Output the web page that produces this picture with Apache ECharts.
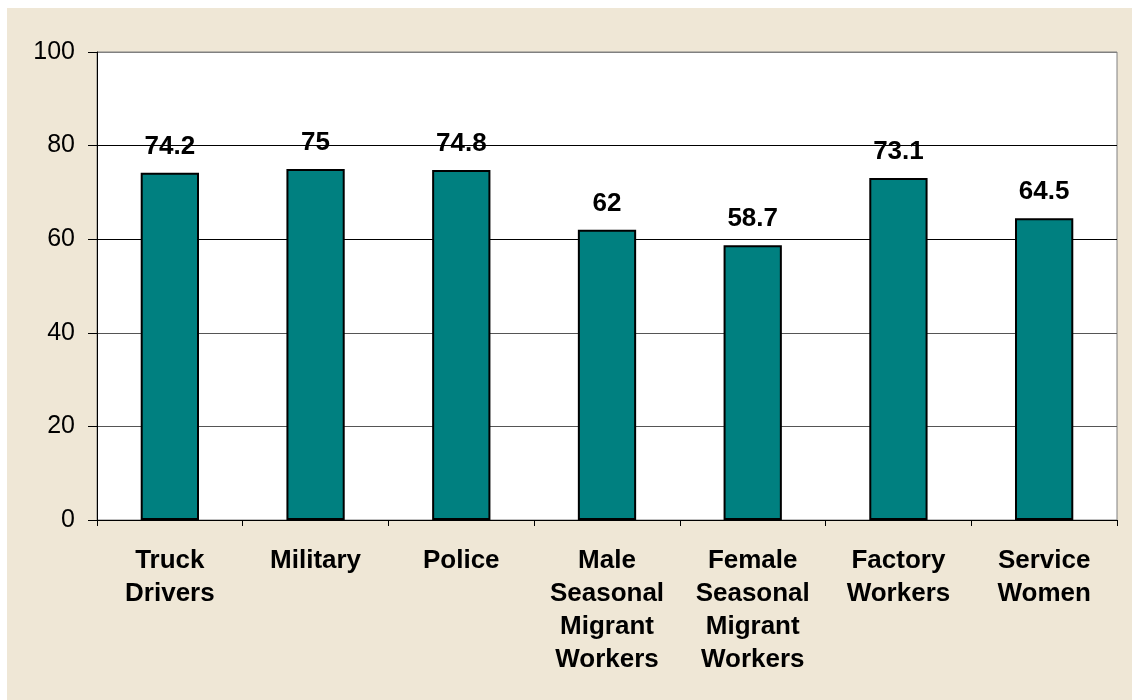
<!DOCTYPE html>
<html>
<head>
<meta charset="utf-8">
<script src="https://cdn.jsdelivr.net/npm/echarts@6/dist/echarts.min.js"></script>
<style>
  html, body { margin: 0; padding: 0; background: #fff; }
  #chart {
    position: absolute;
    left: 7px;
    top: 8px;
    width: 1125px;
    height: 692px;
    background: #efe7d6;
  }
</style>
</head>
<body>
<div id="chart"></div>
<script>
// 分类与数值
const categories = [
  'Truck\nDrivers',
  'Military',
  'Police',
  'Male\nSeasonal\nMigrant\nWorkers',
  'Female\nSeasonal\nMigrant\nWorkers',
  'Factory\nWorkers',
  'Service\nWomen'
]
const values = [74.2, 75, 74.8, 62, 58.7, 73.1, 64.5]
const yTicks = [0, 20, 40, 60, 80, 100]

const chart = echarts.init(document.getElementById('chart'))

const option = {
  animation: false,
  textStyle: { fontFamily: 'Liberation Sans, Arial, sans-serif' },
  grid: {
    left: 90,
    top: 44,
    right: 15,
    bottom: 180,
    show: true,
    backgroundColor: '#fff',
    borderColor: '#808080',
    borderWidth: 1
  },
  xAxis: {
    type: 'category',
    data: categories,
    axisLine: { lineStyle: { color: '#000', width: 1 } },
    axisTick: { show: true, length: 6, alignWithLabel: false, lineStyle: { color: '#000' } },
    axisLabel: {
      interval: 0,
      margin: 24,
      color: '#000',
      fontSize: 26,
      fontWeight: 'bold',
      lineHeight: 33,
      fontFamily: 'Liberation Sans, Arial, sans-serif'
    }
  },
  yAxis: {
    type: 'value',
    min: yTicks[0],
    max: yTicks[yTicks.length - 1],
    interval: 20,
    axisLine: { show: true, lineStyle: { color: '#000', width: 1 } },
    axisTick: { show: true, length: 9, lineStyle: { color: '#000' } },
    splitLine: {
      show: true,
      lineStyle: { color: ['#000', '#555', '#555', '#000', '#000', '#808080'], width: 1 }
    },
    axisLabel: {
      margin: 22,
      color: '#000',
      fontSize: 25,
      fontFamily: 'Liberation Sans, Arial, sans-serif'
    }
  },
  series: [{
    type: 'bar',
    data: values,
    barWidth: '40%',
    itemStyle: {
      color: '#008080',
      borderColor: '#000',
      borderWidth: 2
    },
    label: {
      show: true,
      position: 'top',
      distance: 13,
      color: '#000',
      fontSize: 26,
      fontWeight: 'bold',
      fontFamily: 'Liberation Sans, Arial, sans-serif'
    }
  }]
}

chart.setOption(option)
</script>
</body>
</html>
